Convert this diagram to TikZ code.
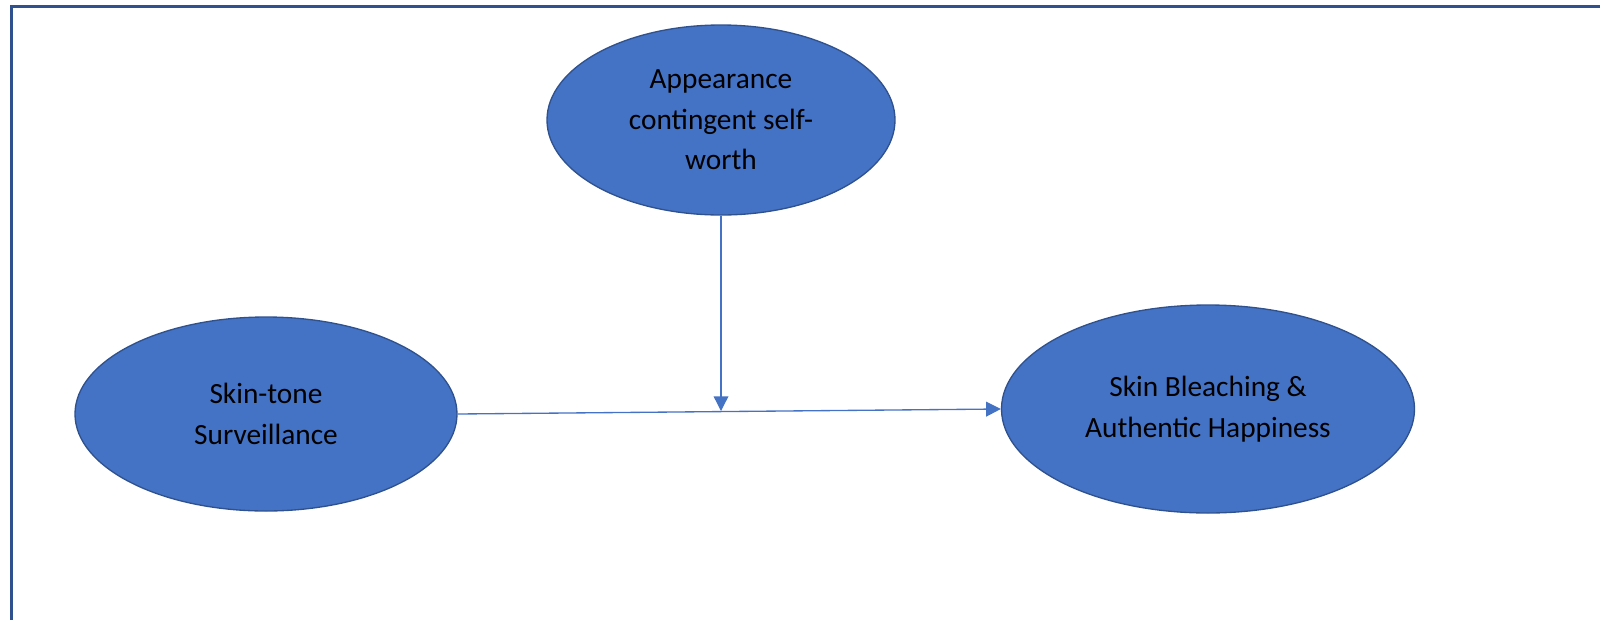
\documentclass[tikz,border=0pt]{standalone}
\usepackage{fontspec}
\setmainfont{Carlito}
\usetikzlibrary{shapes,arrows.meta}
\definecolor{sd_blue}{RGB}{68, 114, 196}
\definecolor{sd_edge}{RGB}{47, 82, 143}
\tikzstyle{vn}=[ellipse,fill=sd_blue,draw=sd_edge,
  line width=1pt,inner sep=0pt,align=center,font=\fontsize{22}{30.5}\selectfont]
\tikzstyle{pa}=[draw=sd_blue,line width=1pt,-{Triangle[width=11pt,length=11pt]}]

\begin{document}
\begin{tikzpicture}[x=0.75pt,y=-0.75pt]
    \useasboundingbox (0,0) rectangle (1600,619);
    \clip (0,0) rectangle (1600,619);
    \draw [sd_edge,line width=2.25pt] (11,6) rectangle (1630,650);
    \node [style=vn,minimum width=261pt,minimum height=142.5pt] (appear) at (721,120) {Appearance\\contingent self-\\worth};
    \node [style=vn,minimum width=286.5pt,minimum height=145.5pt] (surv) at (266,414) {Skin-tone\\Surveillance};
    \node [style=vn,minimum width=309.75pt,minimum height=156pt] (bleach) at (1208,409) {Skin Bleaching \&\\Authentic Happiness};
    \coordinate (meet) at (721,411);
    \draw [style=pa] (surv.east) to (bleach.west);
    \draw [style=pa] (appear.south) to (meet);
  \end{tikzpicture}
\end{document}
